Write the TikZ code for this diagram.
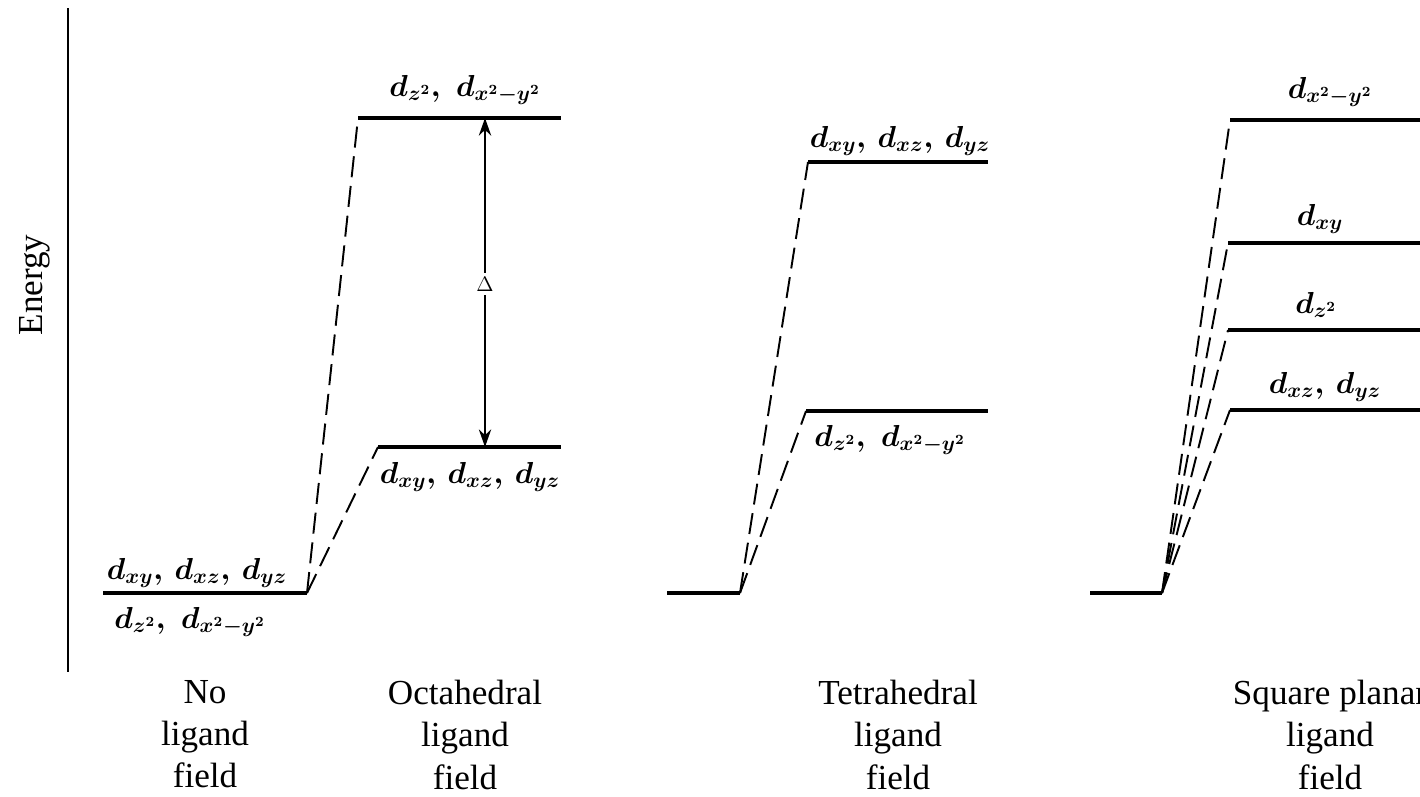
\documentclass[tikz,border=0pt]{standalone}
\usepackage{fontspec}
\setmainfont{Liberation Serif}
\usetikzlibrary{arrows.meta}
\begin{document}
\begin{tikzpicture}[x=0.02cm,y=-0.02cm,
  lvl/.style={line width=1.8pt},
  lnk/.style={line width=1.1pt,dash pattern=on 12pt off 5pt},
  lab/.style={font=\fontsize{17}{20}\selectfont\boldmath,inner sep=0pt},
  captxt/.style={font=\fontsize{20}{24}\selectfont,align=center,inner sep=0pt,anchor=north}]
\useasboundingbox (0,0) rectangle (1420,796);
% axis
\coordinate (axtop) at (68,8);
\coordinate (axbot) at (68,672);
\draw[line width=1pt] (axtop) -- (axbot);
\node[font=\fontsize{20}{24}\selectfont,inner sep=0pt,rotate=90] (energy) at (35,285) {Energy};
% no ligand field
\coordinate (n0) at (103,593);
\coordinate (n1) at (307,593);
\draw[lvl] (n0) -- (n1);
\node[lab] (nup) at (197,573) {$d_{xy},\, d_{xz},\, d_{yz}$};
\node[lab] (ndn) at (190,622) {$d_{z^2},\; d_{x^2-y^2}$};
% octahedral
\coordinate (oa0) at (358,118); \coordinate (oa1) at (561,118);
\coordinate (ob0) at (378,447); \coordinate (ob1) at (561,447);
\draw[lvl] (oa0) -- (oa1);
\draw[lvl] (ob0) -- (ob1);
\draw[lnk] (n1) -- (oa0);
\draw[lnk] (n1) -- (ob0);
\node[lab] (oal) at (465,90) {$d_{z^2},\; d_{x^2-y^2}$};
\node[lab] (obl) at (470,477) {$d_{xy},\, d_{xz},\, d_{yz}$};
\coordinate (dt) at (485,118); \coordinate (db) at (485,447);
\draw[line width=1.2pt,{Stealth[length=10pt,width=7pt]}-{Stealth[length=10pt,width=7pt]}] (dt) -- (db);
\node[fill=white,inner sep=2pt,font=\fontsize{12}{14}\selectfont] (delta) at (485,284) {$\Delta$};
% tetrahedral
\coordinate (t0) at (667,593); \coordinate (t1) at (740,593);
\coordinate (ta0) at (808,162); \coordinate (ta1) at (988,162);
\coordinate (tb0) at (806,411); \coordinate (tb1) at (988,411);
\draw[lvl] (t0) -- (t1);
\draw[lvl] (ta0) -- (ta1);
\draw[lvl] (tb0) -- (tb1);
\draw[lnk] (t1) -- (ta0);
\draw[lnk] (t1) -- (tb0);
\node[lab] (tal) at (900,141) {$d_{xy},\, d_{xz},\, d_{yz}$};
\node[lab] (tbl) at (890,440) {$d_{z^2},\; d_{x^2-y^2}$};
% square planar
\coordinate (s0) at (1090,593); \coordinate (s1) at (1162,593);
\coordinate (sa0) at (1230,120); \coordinate (sa1) at (1420,120);
\coordinate (sb0) at (1228,243); \coordinate (sb1) at (1420,243);
\coordinate (sc0) at (1228,330); \coordinate (sc1) at (1420,330);
\coordinate (sd0) at (1230,410); \coordinate (sd1) at (1420,410);
\draw[lvl] (s0) -- (s1);
\foreach \k in {sa,sb,sc,sd}{\draw[lvl] (\k0) -- (\k1); \draw[lnk] (s1) -- (\k0);}
\node[lab] (sal) at (1330,92) {$d_{x^2-y^2}$};
\node[lab] (sbl) at (1320,219) {$d_{xy}$};
\node[lab] (scl) at (1316,305) {$d_{z^2}$};
\node[lab] (sdl) at (1325,387) {$d_{xz},\, d_{yz}$};
% captions
\node[captxt] (c1) at (205,680) {No\\ligand\\field};
\node[captxt] (c2) at (465,680) {Octahedral\\ligand\\field};
\node[captxt] (c3) at (898,680) {Tetrahedral\\ligand\\field};
\node[captxt] (c4) at (1330,680) {Square planar\\ligand\\field};
\end{tikzpicture}
\end{document}
